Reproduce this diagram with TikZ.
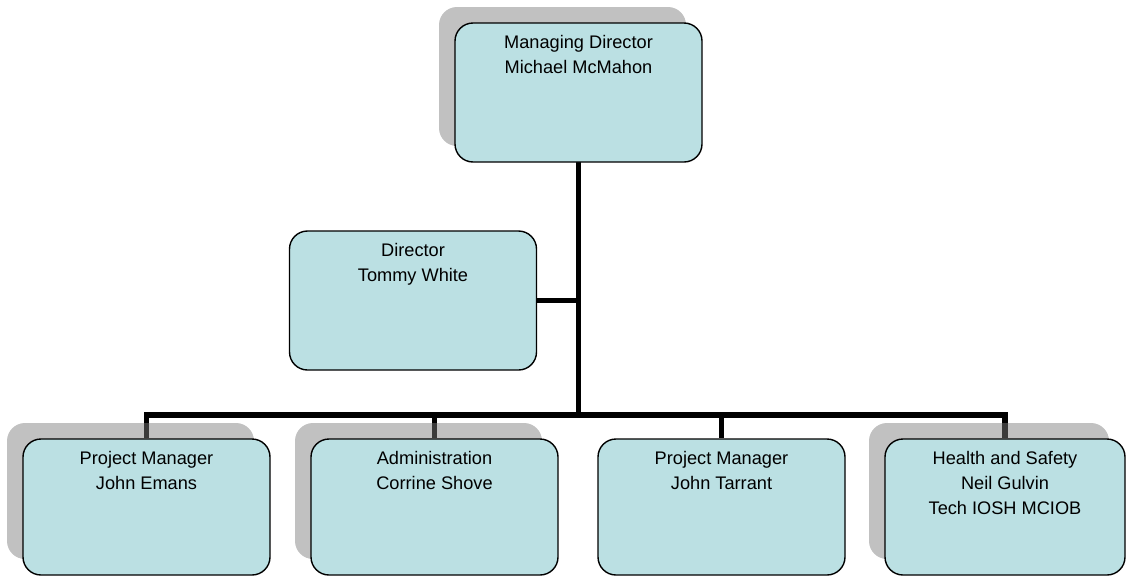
\documentclass[tikz,border=0pt]{standalone}
\usepackage{fontspec}
\setmainfont{Liberation Sans}
\usepackage{xcolor}
\usetikzlibrary{shadows,backgrounds}
\definecolor{boxfill}{RGB}{187,224,227}
\definecolor{shadowgray}{RGB}{125,125,125}

\begin{document}
\begin{tikzpicture}[x=1pt, y=-1pt,
    box/.style={draw=black, line width=1.4pt, fill=boxfill, rounded corners=18pt, minimum width=247pt, minimum height=136pt, inner sep=0pt},
    tallbox/.style={box, minimum height=139pt},
    shadowed/.style={general shadow={fill=shadowgray, opacity=0.48, shadow xshift=-16pt, shadow yshift=16pt}},
    title/.style={anchor=north, inner sep=0pt, align=center, font=\fontsize{18.2}{25}\selectfont},
    wire/.style={line width=5.5pt}
]
    \useasboundingbox (0,0) rectangle (1126,576);

    % Top of the chart
    \node[tallbox, shadowed] (md) at (578.5,92.5) {};
    \node[title] (mdt) at ([yshift=-13pt]md.north) {Managing Director\\Michael McMahon};

    % Director beside the trunk
    \node[tallbox] (dir) at (413,300.5) {};
    \node[title] (dirt) at ([yshift=-13pt]dir.north) {Director\\Tommy White};

    % Bottom row
    \node[box, shadowed] (pm1) at (146.5,507) {};
    \node[title] (pm1t) at ([yshift=-13pt]pm1.north) {Project Manager\\John Emans};
    \node[box, shadowed] (adm) at (434.5,507) {};
    \node[title] (admt) at ([yshift=-13pt]adm.north) {Administration\\Corrine Shove};
    \node[box] (pm2) at (721.5,507) {};
    \node[title] (pm2t) at ([yshift=-13pt]pm2.north) {Project Manager\\John Tarrant};
    \node[box, shadowed, minimum width=240pt] (hs) at (1005,507) {};
    \node[title] (hst) at ([yshift=-13pt]hs.north) {Health and Safety\\Neil Gulvin\\Tech IOSH MCIOB};

    % Connectors (behind the shadows)
    \coordinate (bus) at (578.5,415);
    \begin{pgfonlayer}{background}
        \draw[wire, line cap=rect] (md.south) -- (bus);
        \draw[wire] (dir.east) -- (dir.east -| md.south);
        \draw[wire] (pm1.north) -- (pm1.north |- bus) -- (hs.north |- bus) -- (hs.north);
        \foreach \n in {adm,pm2}
            \draw[wire] (\n.north |- bus) -- (\n.north);
    \end{pgfonlayer}
\end{tikzpicture}
\end{document}
